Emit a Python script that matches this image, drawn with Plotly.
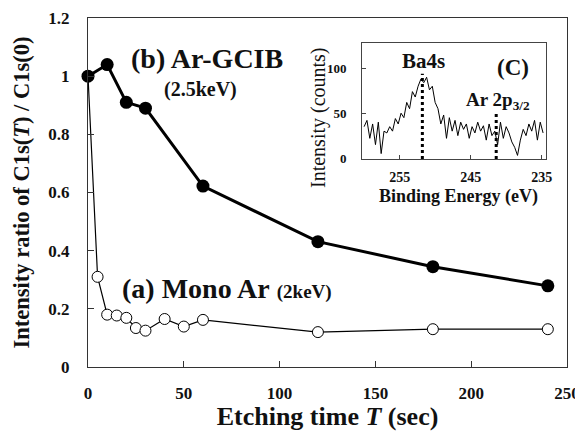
import plotly.graph_objects as go

# Main chart data
t_mono = [0, 5, 10, 15, 20, 25, 30, 40, 50, 60, 120, 180, 240]
r_mono = [1.0, 0.31, 0.18, 0.177, 0.169, 0.134, 0.125, 0.165, 0.139, 0.162, 0.12, 0.13, 0.13]
t_gcib = [0, 10, 20, 30, 60, 120, 180, 240]
r_gcib = [1.0, 1.04, 0.91, 0.89, 0.622, 0.431, 0.345, 0.279]
x_ticks = [0, 50, 100, 150, 200, 250]
y_ticks = [0, 0.2, 0.4, 0.6, 0.8, 1.0, 1.2]
y_ticklabels = ["0", "0.2", "0.4", "0.6", "0.8", "1", "1.2"]

# Inset spectrum
energy = [260.0, 259.6, 259.2, 258.8, 258.4, 258.0, 257.6, 257.2, 256.8, 256.4,
          256.0, 255.6, 255.2, 254.8, 254.4, 254.0, 253.6, 253.2, 252.8, 252.4,
          252.0, 251.6, 251.2, 250.8, 250.4, 250.0, 249.6, 249.2, 248.8, 248.4,
          248.0, 247.6, 247.2, 246.8, 246.4, 246.0, 245.6, 245.2, 244.8, 244.4,
          244.0, 243.6, 243.2, 242.8, 242.4, 242.0, 241.6, 241.2, 240.8, 240.4,
          240.0, 239.6, 239.2, 238.8, 238.4, 238.0, 237.6, 237.2, 236.8, 236.4,
          236.0, 235.6, 235.2, 234.8]
counts = [35, 42, 22, 38, 15, 40, 5, 30, 28, 35,
          30, 44, 38, 50, 45, 62, 55, 74, 68, 80,
          88, 84, 90, 76, 80, 62, 55, 38, 48, 22,
          45, 30, 42, 25, 40, 32, 38, 22, 35, 28,
          40, 30, 36, 20, 38, 25, 30, 15, 40, 22,
          35, 28, 18, 12, 3, 20, 32, 25, 38, 30,
          42, 20, 40, 28]
peak_energy = [251.8, 241.4]
peak_height = [94, 50]
inset_xticks = [255, 245, 235]
inset_yticks = [0, 50, 100]

SERIF = "Liberation Serif, Times New Roman, serif"
INK = "#111111"

fig = go.Figure()

fig.add_trace(go.Scatter(
    x=t_mono, y=r_mono, mode="lines+markers",
    line=dict(color="black", width=1.2),
    marker=dict(symbol="circle", size=11, color="white",
                line=dict(color="black", width=1)),
    showlegend=False, cliponaxis=False))

fig.add_trace(go.Scatter(
    x=t_gcib, y=r_gcib, mode="lines+markers",
    line=dict(color="black", width=3),
    marker=dict(symbol="circle", size=13, color="black"),
    showlegend=False, cliponaxis=False))

fig.add_trace(go.Scatter(
    x=energy, y=counts, mode="lines", xaxis="x2", yaxis="y2",
    line=dict(color="black", width=1),
    showlegend=False))

for e, h in zip(peak_energy, peak_height):
    fig.add_shape(type="line", xref="x2", yref="y2", x0=e, x1=e, y0=-1, y1=h,
                  line=dict(color="black", width=3, dash="dot"))

# The page body adds an 8px margin, so the figure is 8px smaller and shifted.
fig.update_layout(
    width=575, height=423,
    margin=dict(l=80, r=16, t=10, b=64, autoexpand=False),
    paper_bgcolor="white", plot_bgcolor="white",
    font=dict(family=SERIF, color=INK),
    xaxis=dict(
        domain=[0, 1], range=[0, 250], tickvals=x_ticks,
        ticktext=[f"<b>{v}</b>" for v in x_ticks],
        ticks="inside", ticklen=6, tickcolor="#333",
        showline=True, linecolor="#333", linewidth=1.2, mirror=True,
        showgrid=False, zeroline=False, automargin=False,
        tickfont=dict(size=17, family=SERIF),
        ticklabelstandoff=10,
        title=dict(text="<b>Etching time <i>T</i> (sec)</b>",
                   font=dict(size=26, family=SERIF), standoff=8),
    ),
    yaxis=dict(
        domain=[0, 1], range=[0, 1.2], tickvals=y_ticks,
        ticktext=[f"<b>{v}</b>" for v in y_ticklabels],
        ticks="inside", ticklen=6, tickcolor="#333",
        showline=True, linecolor="#333", linewidth=1.2, mirror=True,
        showgrid=False, zeroline=False, automargin=False,
        tickfont=dict(size=17, family=SERIF),
        ticklabelstandoff=14,
        title=dict(text="<b>Intensity ratio of C1s(<i>T</i>) / C1s(0)</b>",
                   font=dict(size=22.5, family=SERIF), standoff=12),
    ),
    xaxis2=dict(
        domain=[0.572, 0.956], anchor="y2", range=[260.3, 234.4],
        tickvals=inset_xticks, ticktext=[f"<b>{v}</b>" for v in inset_xticks],
        ticks="inside", ticklen=4, tickcolor="#444",
        showline=True, linecolor="#444", linewidth=1, mirror=True,
        showgrid=False, zeroline=False, automargin=False,
        tickfont=dict(size=14, family=SERIF),
        ticklabelstandoff=5,
    ),
    yaxis2=dict(
        domain=[0.596, 0.928], anchor="x2", range=[-1, 128],
        tickvals=inset_yticks, ticktext=[f"<b>{v}</b>" for v in inset_yticks],
        ticks="inside", ticklen=4, tickcolor="#444",
        showline=True, linecolor="#444", linewidth=1, mirror=True,
        showgrid=False, zeroline=False, automargin=False,
        tickfont=dict(size=13, family=SERIF),
        ticklabelstandoff=12,
    ),
)

def ann(x, y, text, size, xanchor="center", angle=0):
    fig.add_annotation(xref="paper", yref="paper", x=x, y=y, text=text,
                       showarrow=False, xanchor=xanchor, yanchor="middle",
                       textangle=angle,
                       font=dict(size=size, family=SERIF, color=INK))

W, H = 479.0, 349.0
def px(xp):
    return (xp - 88) / W
def py(yp):
    return (367 - yp) / H

ann(px(207), py(58), "<b>(b) Ar-GCIB</b>", 28)
ann(px(200), py(89), "<b>(2.5keV)</b>", 20)
ann(px(120), py(288), "<b>(a) Mono Ar</b> <b><span style='font-size:19px'>(2keV)</span></b>", 28, xanchor="left")
ann(px(423), py(61), "<b>Ba4s</b>", 21)
ann(px(513), py(67), "<b>(C)</b>", 23)
ann(px(498), py(101), "<b>Ar 2p<sub>3/2</sub></b>", 19)
ann(px(458), py(196), "<b>Binding Energy (eV)</b>", 18)
ann(px(318), py(118), "Intensity (counts)", 20, angle=-90)

fig.write_html("out.html")
